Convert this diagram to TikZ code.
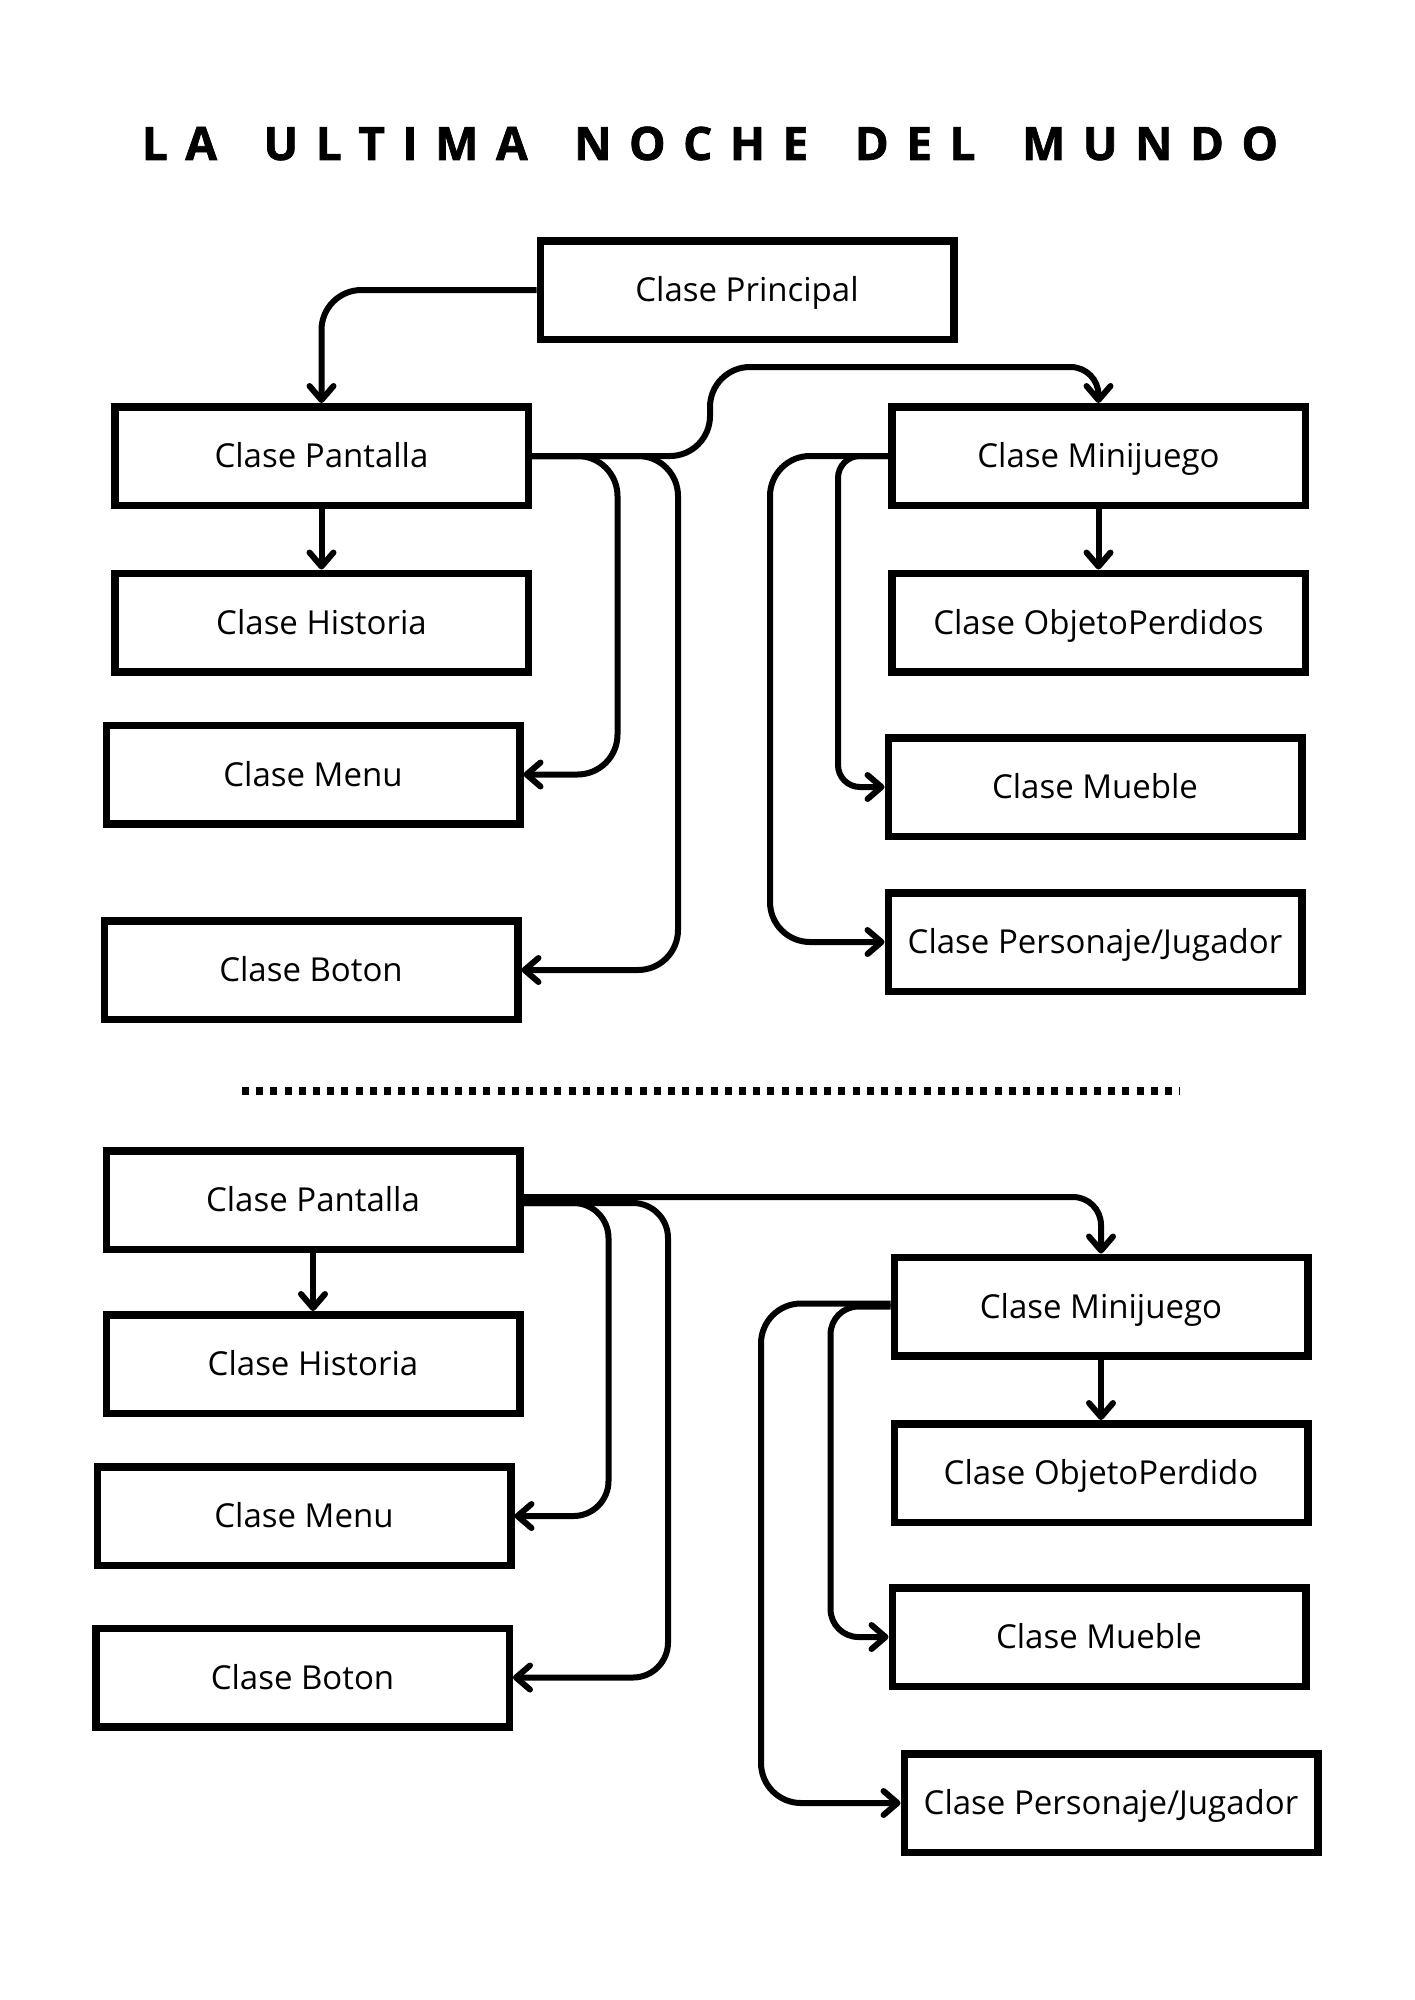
\documentclass[tikz,border=0pt]{standalone}
\usepackage{fontspec}
\setmainfont{Open Sans}
\newfontfamily\titlefont[LetterSpace=38,FakeBold=1.5]{Open Sans}
\usetikzlibrary{arrows.meta}
\tikzset{
  cls/.style={draw, line width=7.5pt, minimum width=413.5pt, minimum height=98.5pt,
    inner sep=0pt, text height=23.6pt, text depth=0pt, fill=white, font=\fontsize{33}{40}\selectfont},
  conn/.style={line width=6pt, -{Straight Barb[length=14pt,width=24pt,round]}},
  dots/.style={line width=7.5pt, dash pattern=on 7pt off 7.2pt},
}
\newcommand{\wsp}{\hspace{17pt}}
\begin{document}
\begin{tikzpicture}[x=1pt,y=-1pt]
\useasboundingbox (0,0) rectangle (1414,2000);
\fill[white] (0,0) rectangle (1414,2000);

\node[font=\titlefont\fontsize{46}{55}\selectfont\bfseries] (title) at (710,143.5) {LA \wsp ULTIMA \wsp NOCHE \wsp DEL \wsp MUNDO};

% top section
\node[cls] (pr)  at (747,290)     {Clase Principal};
\node[cls] (p1)  at (321.5,456)   {Clase Pantalla};
\node[cls] (h1)  at (321.5,622.5) {Clase Historia};
\node[cls] (m1)  at (313,774.5)   {Clase Menu};
\node[cls] (b1)  at (311,970)     {Clase Boton};
\node[cls] (mj1) at (1098.5,456)  {Clase Minijuego};
\node[cls] (o1)  at (1098.5,622.5){Clase ObjetoPerdidos};
\node[cls] (mu1) at (1095,787)    {Clase Mueble};
\node[cls] (pj1) at (1095,942)    {Clase Personaje/Jugador};

\draw[conn, rounded corners=40pt] (pr.west) -| (p1.north);
\draw[conn, rounded corners=40pt] (p1.east) -- (710,456) -- (710,367) [rounded corners=28pt] -| (mj1.north);
\draw[conn, rounded corners=40pt] (p1.east) -| ([xshift=94pt]m1.east) -- (m1.east);
\draw[conn, rounded corners=40pt] (p1.east) -| ([xshift=156.5pt]b1.east) -- (b1.east);
\draw[conn] (p1.south) -- (h1.north);
\draw[conn, rounded corners=22pt] (mj1.west) -| ([xshift=-46.5pt]mu1.west) -- (mu1.west);
\draw[conn, rounded corners=40pt] (mj1.west) -| ([xshift=-114.5pt]pj1.west) -- (pj1.west);
\draw[conn] (mj1.south) -- (o1.north);

% separator
\coordinate (dl) at (242,1091);
\coordinate (dr) at (1180,1091);
\draw[dots] (dl) -- (dr);

% bottom section
\node[cls] (p2)  at (313,1200)    {Clase Pantalla};
\node[cls] (h2)  at (313,1364)    {Clase Historia};
\node[cls] (m2)  at (304,1516)    {Clase Menu};
\node[cls] (b2)  at (302.5,1677.5){Clase Boton};
\node[cls] (mj2) at (1101,1306.5) {Clase Minijuego};
\node[cls] (o2)  at (1101,1473)   {Clase ObjetoPerdido};
\node[cls] (mu2) at (1099,1637)   {Clase Mueble};
\node[cls] (pj2) at (1111,1803)   {Clase Personaje/Jugador};

\draw[conn, rounded corners=28pt] ([yshift=3pt]p2.east) -| (mj2.north);
\draw[conn, rounded corners=35pt] ([yshift=-3pt]p2.east) -| ([xshift=94pt]m2.east) -- (m2.east);
\draw[conn, rounded corners=35pt] ([yshift=-3pt]p2.east) -| ([xshift=155pt]b2.east) -- (b2.east);
\draw[conn] (p2.south) -- (h2.north);
\draw[conn, rounded corners=28pt] (mj2.west) -| ([xshift=-58pt]mu2.west) -- (mu2.west);
\draw[conn, rounded corners=40pt] ([yshift=3pt]mj2.west) -| ([xshift=-139.5pt]pj2.west) -- (pj2.west);
\draw[conn] (mj2.south) -- (o2.north);
\end{tikzpicture}
\end{document}
